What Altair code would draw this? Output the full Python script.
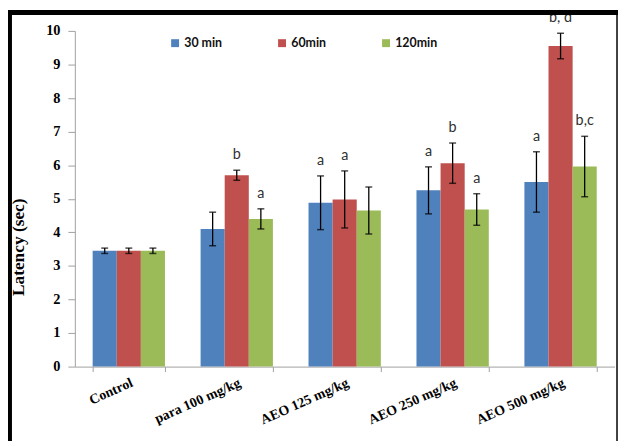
import altair as alt
import pandas as pd

categories = ["Control", "para 100 mg/kg", "AEO 125 mg/kg", "AEO 250 mg/kg", "AEO 500 mg/kg"]
series = ["30 min", "60min", "120min"]
colors = ["#4F81BD", "#C0504D", "#9BBB59"]
y_ticks = [0, 1, 2, 3, 4, 5, 6, 7, 8, 9, 10]

means_30 = [3.45, 4.10, 4.88, 5.25, 5.50]
means_60 = [3.45, 5.70, 4.98, 6.06, 9.55]
means_120 = [3.45, 4.40, 4.65, 4.68, 5.96]
se_30 = [0.08, 0.50, 0.80, 0.70, 0.90]
se_60 = [0.08, 0.15, 0.85, 0.60, 0.38]
se_120 = [0.08, 0.30, 0.70, 0.47, 0.90]
labels_30 = ["", "", "a", "a", "a"]
labels_60 = ["", "b", "a", "b", "b, d"]
labels_120 = ["", "a", "", "a", "b,c"]

rows = []
for s, m, e, l in zip(series, [means_30, means_60, means_120], [se_30, se_60, se_120],
                      [labels_30, labels_60, labels_120]):
    for c, mv, ev, lv in zip(categories, m, e, l):
        rows.append({"group": c, "series": s, "mean": mv, "lo": mv - ev, "hi": mv + ev, "label": lv})
df = pd.DataFrame(rows)

x_axis = alt.Axis(labelAngle=-24, labelAlign="right", labelBaseline="top",
                  labelPadding=4, tickBand="extent", tickSize=5,
                  labelFont="Liberation Serif", labelFontWeight="bold",
                  labelFontSize=14, labelColor="black",
                  domainColor="#A0A0A0", tickColor="#A0A0A0")
x_scale = alt.Scale(paddingInner=0.33, paddingOuter=0.165)
y_axis = alt.Axis(values=y_ticks, tickCount=11, grid=False, tickSize=7, labelPadding=8,
                  labelFont="Liberation Serif", labelFontWeight="bold", labelFontSize=14.5,
                  labelColor="black", domainColor="#A0A0A0", tickColor="#A0A0A0",
                  titleFont="Liberation Serif", titleFontWeight="bold", titleFontSize=17.5,
                  titleColor="black", titleX=-56.5, titleY=218, titleAlign="center",
                  titleBaseline="middle", titleAngle=-90)
y_scale = alt.Scale(domain=[0, 10], nice=False)


def X():
    return alt.X("group:N", sort=categories, title=None, scale=x_scale, axis=x_axis)


def XO():
    return alt.XOffset("series:N", sort=series, scale=alt.Scale(paddingInner=0, paddingOuter=0))


def Y(field):
    return alt.Y(field, scale=y_scale, title="Latency (sec)", axis=y_axis)


base = alt.Chart(df)

bars = base.mark_bar().encode(
    x=X(), xOffset=XO(), y=Y("mean:Q"),
    color=alt.Color("series:N", sort=series,
                    scale=alt.Scale(domain=series, range=colors),
                    legend=alt.Legend(title=None, orient="none", direction="horizontal",
                                      legendX=95, legendY=6, padding=0, columnPadding=54,
                                      symbolType="square", symbolSize=64, symbolStrokeWidth=0,
                                      labelOffset=3, labelFont="Lato", labelFontWeight="bold",
                                      labelFontSize=12.5, labelColor="#111")),
)

err = base.mark_rule(color="black", strokeWidth=1.3).encode(
    x=X(), xOffset=XO(), y=Y("lo:Q"), y2="hi:Q")

cap_lo = base.mark_tick(color="black", size=7, thickness=1.5).encode(
    x=X(), xOffset=XO(), y=Y("lo:Q"))
cap_hi = base.mark_tick(color="black", size=7, thickness=1.5).encode(
    x=X(), xOffset=XO(), y=Y("hi:Q"))

text = base.mark_text(dy=-11, baseline="alphabetic", font="Lato", fontSize=14.5, color="#303030").encode(
    x=X(), xOffset=XO(), y=Y("hi:Q"), text="label:N")

frame_src = alt.Chart(pd.DataFrame({"k": [0]}))
frame_left = frame_src.mark_rule(color="black", strokeWidth=4).encode(
    x=alt.value(-65.5), y=alt.value(-21), y2=alt.value(430))
frame_top = frame_src.mark_rule(color="black", strokeWidth=5).encode(
    x=alt.value(-67.5), x2=alt.value(550), y=alt.value(-18.5))
frame_right = frame_src.mark_rule(color="black", strokeWidth=1.5).encode(
    x=alt.value(547.5), y=alt.value(-21), y2=alt.value(430))

chart = alt.layer(bars, err, cap_lo, cap_hi, text, frame_left, frame_top, frame_right).properties(
    width=545, height=339,
    autosize=alt.AutoSizeParams(type="none"),
    padding={"left": 67.5, "top": 21, "right": 3.5, "bottom": 73},
    background="white",
).configure_view(stroke=None)

chart.save("out.html", embed_options={"renderer": "svg", "actions": False})
